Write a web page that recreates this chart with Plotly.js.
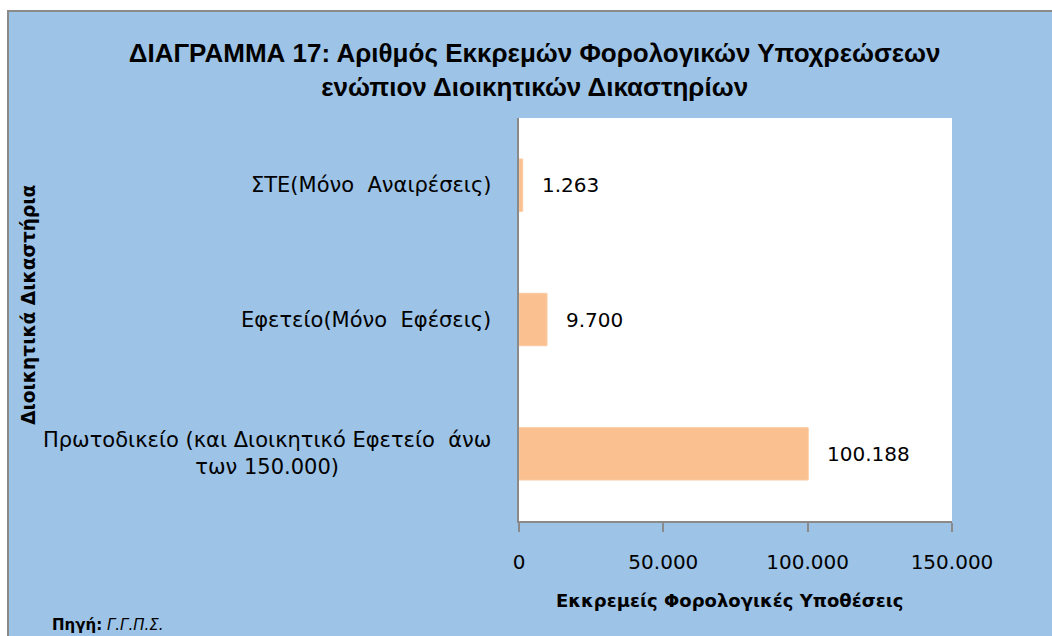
<!DOCTYPE html>
<html>
<head>
<meta charset="utf-8">
<script src="https://cdn.plot.ly/plotly-3.0.1.min.js"></script>
<style>
  html, body { margin: 0; padding: 0; background: #ffffff; width: 1052px; height: 636px; overflow: hidden; }
  #frame { position: absolute; left: 7px; top: 10px; width: 1043px; height: 624px;
           border-left: 2px solid #8a8a8a; border-top: 2px solid #8a8a8a; background: #9DC3E6; }
  #chart { width: 1043px; height: 624px; }
</style>
</head>
<body>
<div id="frame"><div id="chart"></div></div>
<script>
// ---- data ----
const categories = ["Πρωτοδικείο", "Εφετείο", "ΣΤΕ"];
const categoryLabels = [
  "Πρωτοδικείο (και Διοικητικό Εφετείο\u00a0 άνω<br>των 150.000)",
  "Εφετείο(Μόνο\u00a0 Εφέσεις)",
  "ΣΤΕ(Μόνο\u00a0 Αναιρέσεις)"
];
const pendingCases = [100188, 9700, 1263];
const xTickValues = [0, 50000, 100000, 150000];
const titleText = "ΔΙΑΓΡΑΜΜΑ 17: Αριθμός Εκκρεμών Φορολογικών Υποχρεώσεων<br>ενώπιον Διοικητικών Δικαστηρίων";
const xTitle = "Εκκρεμείς Φορολογικές Υποθέσεις";
const yTitle = "Διοικητικά Δικαστήρια";
const sourceText = "<b>Πηγή:</b> <i>Γ.Γ.Π.Σ.</i>";

// ---- drawing ----
const FONT = "DejaVu Sans, Liberation Sans, sans-serif";
const NARROW = "Liberation Sans Narrow, sans-serif";
const fmt = v => String(v).replace(/\B(?=(\d{3})+(?!\d))/g, ".");

const trace = {
  type: "bar",
  orientation: "h",
  x: pendingCases,
  y: categories,
  marker: { color: "#FAC090", line: { color: "#FBCBA2", width: 1 } },
  hoverinfo: "skip"
};

const annotations = [];
categories.forEach((c, i) => {
  annotations.push({
    xref: "x", yref: "y", x: 0, y: c, text: categoryLabels[i],
    xanchor: "right", yanchor: "middle", xshift: -26, align: "center",
    showarrow: false, font: { family: FONT, size: 21, color: "#000" }
  });
  annotations.push({
    xref: "x", yref: "y", x: pendingCases[i], y: c, text: fmt(pendingCases[i]),
    xanchor: "left", yanchor: "middle", xshift: 17,
    showarrow: false, font: { family: FONT, size: 20, color: "#000" }
  });
});
annotations.push({
  xref: "paper", yref: "paper", x: 0.487, y: -0.197, text: "<b>" + xTitle + "</b>",
  xanchor: "center", yanchor: "middle", showarrow: false,
  font: { family: FONT, size: 18, color: "#000" }
});
annotations.push({
  xref: "paper", yref: "paper", x: -1.132, y: 0.536, text: "<b>" + yTitle + "</b>",
  textangle: -90, xanchor: "center", yanchor: "middle", showarrow: false,
  font: { family: FONT, size: 18.6, color: "#000" }
});
annotations.push({
  xref: "paper", yref: "paper", x: -1.083, y: -0.258, text: sourceText,
  xanchor: "left", yanchor: "middle", showarrow: false,
  font: { family: FONT, size: 15, color: "#000" }
});

const layout = {
  width: 1043, height: 624,
  margin: { l: 510, r: 100, t: 106, b: 115, pad: 0 },
  paper_bgcolor: "#9DC3E6",
  plot_bgcolor: "#ffffff",
  separators: ",.",
  showlegend: false,
  bargap: 0.61,
  title: {
    text: "<b>" + titleText + "</b>",
    xref: "container", yref: "container", x: 0.504, y: 0.92,
    xanchor: "center", yanchor: "middle",
    font: { family: NARROW, size: 26, color: "#000" }
  },
  xaxis: {
    range: [0, 150000], tickvals: xTickValues, tickformat: ",",
    ticks: "outside", ticklen: 9, tickwidth: 2, tickcolor: "#8a8a8a",
    showline: true, linecolor: "#8a8a8a", linewidth: 2,
    showgrid: false, zeroline: false, ticklabelstandoff: 13,
    tickfont: { family: FONT, size: 20, color: "#000" },
    fixedrange: true
  },
  yaxis: {
    type: "category", categoryorder: "array", categoryarray: categories,
    showticklabels: false, ticks: "",
    showline: true, linecolor: "#8a8a8a", linewidth: 2,
    showgrid: false, zeroline: false, fixedrange: true
  },
  annotations: annotations
};

Plotly.newPlot("chart", [trace], layout, { displayModeBar: false, staticPlot: true });
</script>
</body>
</html>
